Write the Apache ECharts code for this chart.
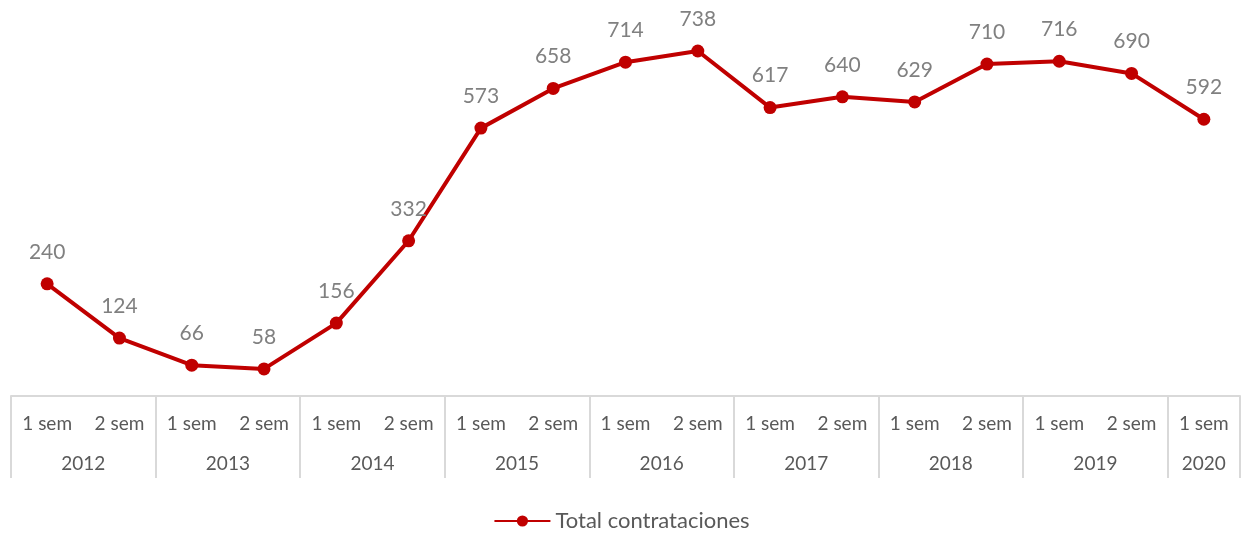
<!DOCTYPE html>
<html><head><meta charset="utf-8">
<script src="https://cdn.jsdelivr.net/npm/echarts@6/dist/echarts.min.js"></script>
<style>html,body{margin:0;padding:0;background:#fff}#c{width:1243px;height:534px}</style>
</head><body><div id="c"></div>
<script>
const semesters = ['1 sem','2 sem','1 sem','2 sem','1 sem','2 sem','1 sem','2 sem','1 sem','2 sem','1 sem','2 sem','1 sem','2 sem','1 sem','2 sem','1 sem'];
const years = ['2012','2013','2014','2015','2016','2017','2018','2019','2020'];
const yearSpans = [2,2,2,2,2,2,2,2,1];
const values = [240,124,66,58,156,332,573,658,714,738,617,640,629,710,716,690,592];
const seriesName = 'Total contrataciones';

// year label positions in half-category units (centre of each year's span)
const yearPos = {};
let acc = 0;
years.forEach((y, i) => { yearPos[acc + yearSpans[i]] = y; acc += yearSpans[i] * 2; });
const yearStarts = new Set();
let s = 0; yearSpans.forEach(n => { yearStarts.add(s); s += n; });

const font = 'Lato, "Open Sans", sans-serif';
const chart = echarts.init(document.getElementById('c'));
chart.setOption({
  animation: false,
  textStyle: { fontFamily: font },
  grid: { left: 11, right: 0, top: 22, bottom: 138, containLabel: false },
  legend: {
    bottom: -3, left: 'center',
    itemWidth: 56, itemHeight: 14, itemGap: 8,
    textStyle: { color: '#595959', fontSize: 22, fontFamily: font },
    data: [seriesName]
  },
  xAxis: [{
    type: 'category', data: semesters, boundaryGap: true,
    axisLine: { show: true, lineStyle: { color: '#d9d9d9', width: 2 } },
    axisTick: { show: true, length: 82, interval: (i) => yearStarts.has(i), lineStyle: { color: '#d9d9d9', width: 2 } },
    axisLabel: { interval: 0, color: '#595959', fontSize: 19, margin: 18, fontFamily: font },
    splitLine: { show: false }
  }, {
    type: 'value', min: 0, max: 34, interval: 1, position: 'bottom', gridIndex: 0,
    axisLine: { show: false }, axisTick: { show: false }, splitLine: { show: false },
    axisLabel: { show: true, color: '#595959', fontSize: 19, margin: 58, fontFamily: font,
      showMinLabel: true, showMaxLabel: true, hideOverlap: false,
      formatter: (v) => yearPos[Math.round(v)] || '' }
  }],
  yAxis: { type: 'value', min: 0, max: 800, show: false, splitLine: { show: false } },
  series: [{
    name: seriesName, type: 'line', data: values, xAxisIndex: 0,
    symbol: 'circle', symbolSize: 13,
    lineStyle: { color: '#C00000', width: 4 },
    itemStyle: { color: '#C00000' },
    label: { show: true, position: 'top', distance: 15, color: '#808080', fontSize: 21, fontFamily: font }
  }]
});
</script></body></html>
